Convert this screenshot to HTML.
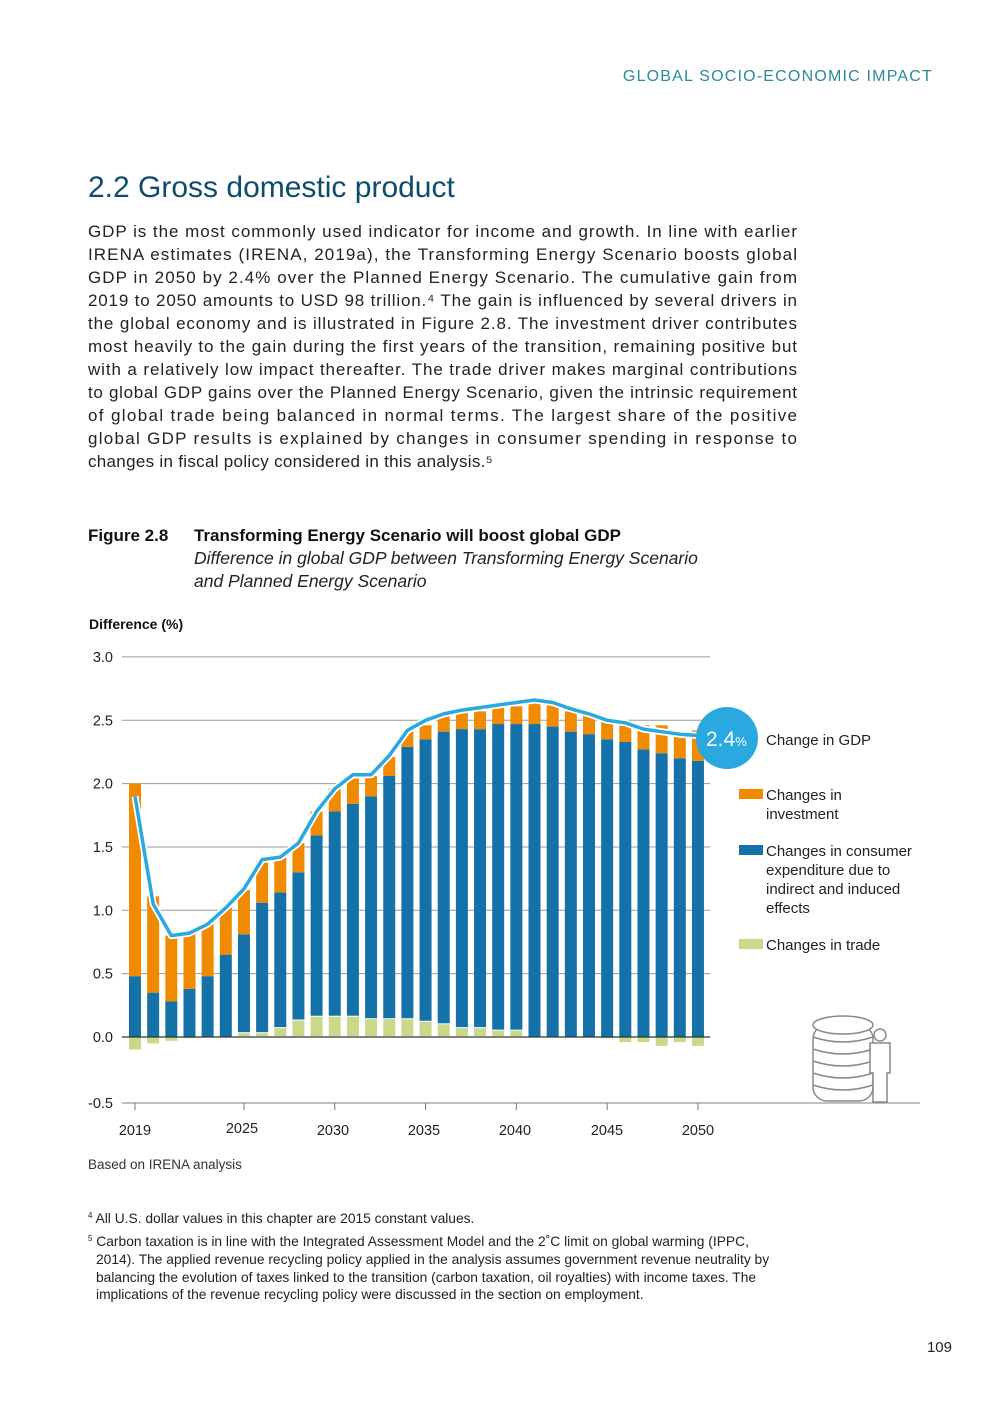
<!DOCTYPE html>
<html><head><meta charset="utf-8"><style>
html,body{margin:0;padding:0;background:#fff;}
svg{display:block;font-family:"Liberation Sans",sans-serif;}
</style></head><body>
<svg id="s" width="1003" height="1417" viewBox="0 0 1003 1417" xmlns="http://www.w3.org/2000/svg">
<text x="933" y="81" text-anchor="end" font-size="16" fill="#2a8a9a" letter-spacing="1.2">GLOBAL SOCIO-ECONOMIC IMPACT</text>
<text x="88" y="197" font-size="30" fill="#0e4c6b">2.2  Gross domestic product</text>
<g font-size="17" fill="#222">
<text x="88" y="237" textLength="709" lengthAdjust="spacing">GDP is the most commonly used indicator for income and growth. In line with earlier</text>
<text x="88" y="260" textLength="709" lengthAdjust="spacing">IRENA estimates (IRENA, 2019a), the Transforming Energy Scenario boosts global</text>
<text x="88" y="283" textLength="709" lengthAdjust="spacing">GDP in 2050 by 2.4% over the Planned Energy Scenario. The cumulative gain from</text>
<text x="88" y="306" textLength="709" lengthAdjust="spacing">2019 to 2050 amounts to USD 98 trillion.⁴ The gain is influenced by several drivers in</text>
<text x="88" y="329" textLength="709" lengthAdjust="spacing">the global economy and is illustrated in Figure 2.8. The investment driver contributes</text>
<text x="88" y="352" textLength="709" lengthAdjust="spacing">most heavily to the gain during the first years of the transition, remaining positive but</text>
<text x="88" y="375" textLength="709" lengthAdjust="spacing">with a relatively low impact thereafter. The trade driver makes marginal contributions</text>
<text x="88" y="398" textLength="709" lengthAdjust="spacing">to global GDP gains over the Planned Energy Scenario, given the intrinsic requirement</text>
<text x="88" y="421" textLength="709" lengthAdjust="spacing">of global trade being balanced in normal terms. The largest share of the positive</text>
<text x="88" y="444" textLength="709" lengthAdjust="spacing">global GDP results is explained by changes in consumer spending in response to</text>
<text x="88" y="467" letter-spacing="0.3">changes in fiscal policy considered in this analysis.⁵</text>
</g>
<text x="88" y="541" font-size="17" fill="#111" font-weight="bold">Figure 2.8</text>
<text x="194" y="541" font-size="17" fill="#111" font-weight="bold">Transforming Energy Scenario will boost global GDP</text>
<text x="194" y="564" font-size="17.5" fill="#222" font-style="italic">Difference in global GDP between Transforming Energy Scenario</text>
<text x="194" y="587" font-size="17.5" fill="#222" font-style="italic">and Planned Energy Scenario</text>
<text x="89" y="629" font-size="14" fill="#111" font-weight="bold">Difference (%)</text>
<g id="grid" stroke="#9a9a9a" stroke-width="1"></g>
<g id="ylab" font-size="14.5" fill="#222" text-anchor="end"></g>
<g id="bars"></g>
<line x1="122" y1="1037" x2="710" y2="1037" stroke="#333" stroke-width="1.3"/>
<line x1="122" y1="1103" x2="920" y2="1103" stroke="#999" stroke-width="1.3"/>
<g id="xt" stroke="#777"></g>
<g font-size="14.5" fill="#222" text-anchor="middle">
<text x="135" y="1135">2019</text><text x="242" y="1133">2025</text><text x="333" y="1135">2030</text><text x="424" y="1135">2035</text><text x="515" y="1135">2040</text><text x="607" y="1135">2045</text><text x="698" y="1135">2050</text>
</g>
<polyline id="ln" fill="none" stroke="#fff" stroke-width="7" stroke-linejoin="round"/>
<polyline id="ln2" fill="none" stroke="#29a9df" stroke-width="3.5" stroke-linejoin="round"/>
<circle cx="727" cy="738" r="31" fill="#29a9df"/>
<text x="706" y="746" font-size="21" fill="#fff">2.4<tspan font-size="13">%</tspan></text>
<g font-size="15" fill="#222">
<text x="766" y="745">Change in GDP</text>
<rect x="739" y="789" width="24" height="10" fill="#f08a00"/>
<text x="766" y="800">Changes in</text><text x="766" y="819">investment</text>
<rect x="739" y="845" width="24" height="10" fill="#1572a8"/>
<text x="766" y="856">Changes in consumer</text><text x="766" y="875">expenditure due to</text><text x="766" y="894">indirect and induced</text><text x="766" y="913">effects</text>
<rect x="739" y="939" width="24" height="10" fill="#c8d98c"/>
<text x="766" y="950">Changes in trade</text>
</g>
<g fill="#fff" stroke="#888" stroke-width="1.5">
<rect x="813" y="1025" width="60" height="76" rx="14"/>
<ellipse cx="843" cy="1025" rx="30" ry="9"/>
<path d="M813 1037 q30 10 60 0 M813 1049 q30 10 60 0 M813 1061 q30 10 60 0 M813 1073 q30 10 60 0 M813 1085 q30 10 60 0" fill="none"/>
<circle cx="880" cy="1035" r="6"/>
<path d="M870 1043 h20 v30 h-3 v29 h-14 v-29 h-3 z"/>
</g>
<text x="88" y="1169" font-size="13.5" fill="#333">Based on IRENA analysis</text>
<g font-size="13.8" fill="#222">
<text x="88" y="1223"><tspan font-size="8" dy="-5">4</tspan><tspan dy="5"> All U.S. dollar values in this chapter are 2015 constant values.</tspan></text>
<text x="88" y="1246"><tspan font-size="8" dy="-5">5</tspan><tspan dy="5"> Carbon taxation is in line with the Integrated Assessment Model and the 2˚C limit on global warming (IPPC,</tspan></text>
<text x="96" y="1264">2014). The applied revenue recycling policy applied in the analysis assumes government revenue neutrality by</text>
<text x="96" y="1282">balancing the evolution of taxes linked to the transition (carbon taxation, oil royalties) with income taxes. The</text>
<text x="96" y="1299">implications of the revenue recycling policy were discussed in the section on employment.</text>
</g>
<text x="952" y="1352" font-size="15" fill="#222" text-anchor="end">109</text>
</svg>
<script>
var NS="http://www.w3.org/2000/svg";
function el(p,t,a){var e=document.createElementNS(NS,t);for(var k in a)e.setAttribute(k,a[k]);p.appendChild(e);return e;}
var Z=1037,U=126.7;
function Y(v){return Z-v*U;}
var g=document.getElementById('grid'),yl=document.getElementById('ylab');
[3,2.5,2,1.5,1,0.5].forEach(function(v){el(g,'line',{x1:122,x2:710,y1:Y(v),y2:Y(v)});});
[3,2.5,2,1.5,1,0.5,0,-0.5].forEach(function(v){var t=el(yl,'text',{x:113,y:(v==-0.5?1103:Y(v))+5});t.textContent=v.toFixed(1);});
var gr=[-0.1,-0.05,-0.03,-0.01,0,0,0.03,0.03,0.07,0.13,0.16,0.16,0.16,0.14,0.14,0.14,0.12,0.1,0.07,0.07,0.05,0.05,0,0,0,0,-0.01,-0.04,-0.04,-0.07,-0.04,-0.07];
var bl=[0.48,0.35,0.28,0.38,0.48,0.65,0.81,1.06,1.14,1.3,1.59,1.78,1.84,1.9,2.06,2.29,2.35,2.41,2.43,2.43,2.47,2.47,2.47,2.45,2.41,2.39,2.35,2.33,2.27,2.24,2.2,2.18];
var or=[2.0,1.11,0.8,0.83,0.89,1.02,1.16,1.39,1.43,1.53,1.78,1.96,2.04,2.06,2.21,2.41,2.46,2.53,2.56,2.57,2.6,2.61,2.64,2.62,2.57,2.54,2.49,2.46,2.46,2.46,2.41,2.42];
var ln=[1.9,1.05,0.8,0.82,0.89,1.02,1.17,1.4,1.42,1.53,1.78,1.96,2.07,2.07,2.22,2.42,2.5,2.55,2.58,2.6,2.62,2.64,2.66,2.64,2.59,2.55,2.5,2.48,2.43,2.41,2.39,2.38];
var b=document.getElementById('bars'),xt=document.getElementById('xt'),pts=[];
for(var i=0;i<32;i++){
 var x=129+i*18.16,w=12;
 var gp=Math.max(gr[i],0);
 if(gr[i]<0) el(b,'rect',{x:x,y:Z,width:w,height:-gr[i]*U,fill:'#c8d98c'});
 else if(gr[i]>0) el(b,'rect',{x:x,y:Y(gr[i]),width:w,height:gr[i]*U-1,fill:'#c8d98c'});
 var bb=gp>0?gp:0;
 el(b,'rect',{x:x,y:Y(bl[i]),width:w,height:(bl[i]-bb)*U-(gp>0?1:0),fill:'#1572a8'});
 el(b,'rect',{x:x,y:Y(or[i]),width:w,height:(or[i]-bl[i])*U,fill:'#f08a00'});
 pts.push((x+w/2).toFixed(1)+','+Y(ln[i]).toFixed(1));
}
[0,6,11,16,21,26,31].forEach(function(i){var x=135+i*18.16;el(xt,'line',{x1:x,x2:x,y1:1103,y2:1110});});
pts.push('700,'+Y(2.38));
document.getElementById('ln').setAttribute('points',pts.join(' '));
document.getElementById('ln2').setAttribute('points',pts.join(' '));
</script>
</body></html>
